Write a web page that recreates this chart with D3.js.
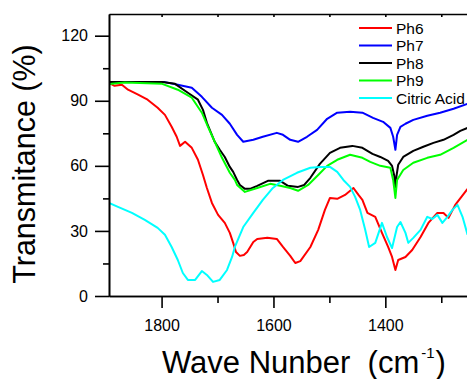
<!DOCTYPE html>
<html>
<head>
<meta charset="utf-8">
<script src="https://cdn.jsdelivr.net/npm/d3@7"></script>
<style>
  body { margin: 0; background: #fff; }
  svg { display: block; font-family: "Liberation Sans", Arial, sans-serif; }
  .axis path, .axis line { stroke: #000; stroke-width: 1.6; }
  .axis text { font-family: "Liberation Sans", Arial, sans-serif; font-size: 16px; fill: #000; }
</style>
</head>
<body>
<svg id="chart" width="467" height="379"></svg>
<script>
// FTIR spectra, [wavenumber cm-1, transmittance %]
const seriesNames = ['Ph6', 'Ph7', 'Ph8', 'Ph9', 'Citric Acid'];
const seriesColors = ['#ff0000', '#0000ff', '#000000', '#00ff00', '#00ffff'];
const yMajor = [0, 30, 60, 90, 120];
const yMinor = [15, 45, 75, 105];
const xMajor = [1800, 1600, 1400];
const xMinor = [1700, 1500, 1300];

const ph6 = [[1894,98.3],[1884,96.9],[1871,97.4],[1860,95.1],[1842,92.8],[1825,90.5],[1807,86.8],[1794,83.5],
  [1782,78.0],[1773,73.4],[1767,69.2],[1758,71.1],[1746,68.3],[1735,62.8],[1726,55.8],[1719,49.8],[1710,42.9],
  [1699,37.4],[1687,33.7],[1678,29.1],[1672,24.5],[1667,20.3],[1660,18.5],[1653,18.9],[1647,20.3],[1636,24.9],
  [1629,26.3],[1611,26.8],[1594,26.3],[1583,22.6],[1570,18.5],[1561,15.2],[1552,16.1],[1534,22.6],[1520,30.5],
  [1508,39.7],[1499,45.2],[1486,44.8],[1472,46.6],[1457,49.8],[1448,46.6],[1441,44.3],[1432,38.3],[1418,36.5],
  [1406,29.1],[1395,22.6],[1388,18.0],[1382,12.0],[1377,16.6],[1364,18.0],[1352,21.2],[1337,27.2],[1323,33.7],
  [1307,38.3],[1296,38.3],[1287,36.0],[1275,42.0],[1253,49.4]];

const ph7 = [[1894,98.6],[1794,98.6],[1771,97.4],[1746,96.0],[1728,91.8],[1710,86.8],[1692,83.5],[1678,79.4],
  [1665,74.3],[1654,71.1],[1636,72.0],[1619,73.4],[1594,75.2],[1583,74.3],[1570,72.0],[1556,71.1],[1540,73.4],
  [1522,76.6],[1504,81.7],[1486,84.5],[1463,84.9],[1441,84.5],[1422,82.1],[1404,80.3],[1391,77.5],[1386,73.4],
  [1382,67.4],[1379,74.3],[1373,78.0],[1364,79.4],[1350,81.2],[1325,83.1],[1302,84.5],[1278,86.3],[1253,88.6]];

const ph8 = [[1894,98.6],[1799,98.6],[1776,97.8],[1753,93.7],[1735,90.5],[1726,85.8],[1719,79.8],[1705,71.1],
  [1696,67.4],[1687,64.1],[1678,59.5],[1672,57.2],[1665,53.5],[1660,51.2],[1651,49.4],[1642,49.4],[1629,50.8],
  [1610,53.1],[1588,53.1],[1574,50.8],[1556,50.3],[1545,51.2],[1534,54.5],[1517,60.9],[1499,66.0],[1481,68.3],
  [1459,69.2],[1441,68.3],[1423,65.5],[1409,64.1],[1395,62.3],[1388,60.0],[1384,55.4],[1382,50.3],[1380,55.4],
  [1377,60.5],[1368,64.1],[1350,66.9],[1332,68.8],[1314,70.6],[1296,72.0],[1278,74.3],[1266,76.1],[1253,77.5]];

const ph9 = [[1894,97.7],[1866,98.4],[1799,97.8],[1771,95.1],[1746,91.4],[1728,84.5],[1717,78.0],[1705,71.1],
  [1692,63.7],[1678,56.8],[1669,53.5],[1665,51.2],[1651,48.0],[1629,49.8],[1606,51.7],[1588,50.8],[1570,49.8],
  [1556,48.5],[1538,51.2],[1520,55.8],[1504,60.0],[1486,62.8],[1463,65.1],[1441,63.7],[1427,61.8],[1409,60.0],
  [1391,59.1],[1386,53.5],[1382,45.2],[1379,53.5],[1368,58.1],[1350,61.4],[1325,63.7],[1302,65.1],[1278,68.3],
  [1253,72.0]];

const citric = [[1894,42.9],[1878,41.1],[1853,38.3],[1830,35.1],[1807,31.4],[1794,28.2],[1782,22.6],[1771,16.6],
  [1762,10.6],[1753,7.4],[1740,7.4],[1728,11.5],[1719,9.7],[1708,6.5],[1696,7.4],[1683,12.0],[1674,18.0],
  [1669,22.6],[1654,31.8],[1636,38.3],[1619,44.3],[1601,49.8],[1583,53.5],[1558,56.8],[1534,59.1],[1517,59.5],
  [1499,59.5],[1486,57.2],[1475,53.5],[1463,50.3],[1454,45.7],[1445,39.7],[1436,30.5],[1429,22.6],[1418,24.5],
  [1406,33.7],[1397,27.2],[1388,22.1],[1379,31.8],[1373,34.1],[1364,29.1],[1359,24.5],[1350,26.8],[1337,30.5],
  [1325,36.5],[1316,35.5],[1307,37.4],[1298,33.7],[1289,36.5],[1280,39.7],[1271,42.0],[1262,36.5],[1253,28.2]];

const allSeries = [ph6, ph7, ph8, ph9, citric];

const svg = d3.select('#chart');
const plotL = 109, plotR = 467, plotT = 14, plotB = 296;

const x = d3.scaleLinear().domain([1894, 1254]).range([plotL, plotR]);
const y = d3.scaleLinear().domain([0, 130]).range([plotB, plotT]);

svg.append('clipPath').attr('id', 'plot-clip')
  .append('rect').attr('x', plotL).attr('y', plotT).attr('width', plotR - plotL).attr('height', plotB - plotT);

// data lines (drawn first so axes sit on top)
const line = d3.line().x((d) => x(d[0])).y((d) => y(d[1]));
svg.append('g').attr('clip-path', 'url(#plot-clip)')
  .selectAll('path').data(allSeries).join('path')
  .attr('d', line)
  .attr('fill', 'none')
  .attr('stroke', (d, i) => seriesColors[i])
  .attr('stroke-width', 2)
  .attr('stroke-linejoin', 'round');

// top frame line with small inward ticks
svg.append('g').attr('class', 'axis').attr('transform', `translate(0,${plotT})`)
  .call(d3.axisTop(x).tickValues(xMajor.concat(xMinor)).tickSize(-3).tickSizeOuter(0).tickFormat(''));

// y axis: major + minor ticks
svg.append('g').attr('class', 'axis').attr('transform', `translate(${plotL},0)`)
  .call(d3.axisLeft(y).tickValues(yMinor).tickSize(6).tickSizeOuter(0).tickFormat(''));
svg.append('g').attr('class', 'axis').attr('transform', `translate(${plotL},0)`)
  .call(d3.axisLeft(y).tickValues(yMajor).tickSize(14).tickPadding(7).tickSizeOuter(0).tickFormat(d3.format('d')));

// x axis: major + minor ticks
svg.append('g').attr('class', 'axis').attr('transform', `translate(0,${plotB})`)
  .call(d3.axisBottom(x).tickValues(xMinor).tickSize(7).tickSizeOuter(0).tickFormat(''));
svg.append('g').attr('class', 'axis').attr('transform', `translate(0,${plotB})`)
  .call(d3.axisBottom(x).tickValues(xMajor).tickSize(12).tickPadding(12).tickSizeOuter(0).tickFormat(d3.format('d')));

// axis titles
svg.append('text')
  .attr('transform', 'translate(35,164) rotate(-90)')
  .attr('text-anchor', 'middle')
  .attr('font-size', 30.5)
  .text('Transmitance (%)');

const xt = svg.append('text').attr('x', 162).attr('y', 373).attr('font-size', 31);
xt.append('tspan').text('Wave Nunber\u00a0\u00a0(cm');
xt.append('tspan').attr('font-size', 15).attr('dy', -15).attr('dx', 2).text('-1');
xt.append('tspan').attr('dy', 15).attr('dx', 1).text(')');

// legend
const legend = svg.append('g').attr('transform', 'translate(359,28)');
const row = legend.selectAll('g').data(seriesNames).join('g')
  .attr('transform', (d, i) => `translate(0,${i * 17.5})`);
row.append('line').attr('x1', 0).attr('x2', 33)
  .attr('stroke', (d, i) => seriesColors[i]).attr('stroke-width', 2);
row.append('text').attr('x', 37).attr('dy', '0.36em').attr('font-size', 15.5).text((d) => d);
</script>
</body>
</html>
